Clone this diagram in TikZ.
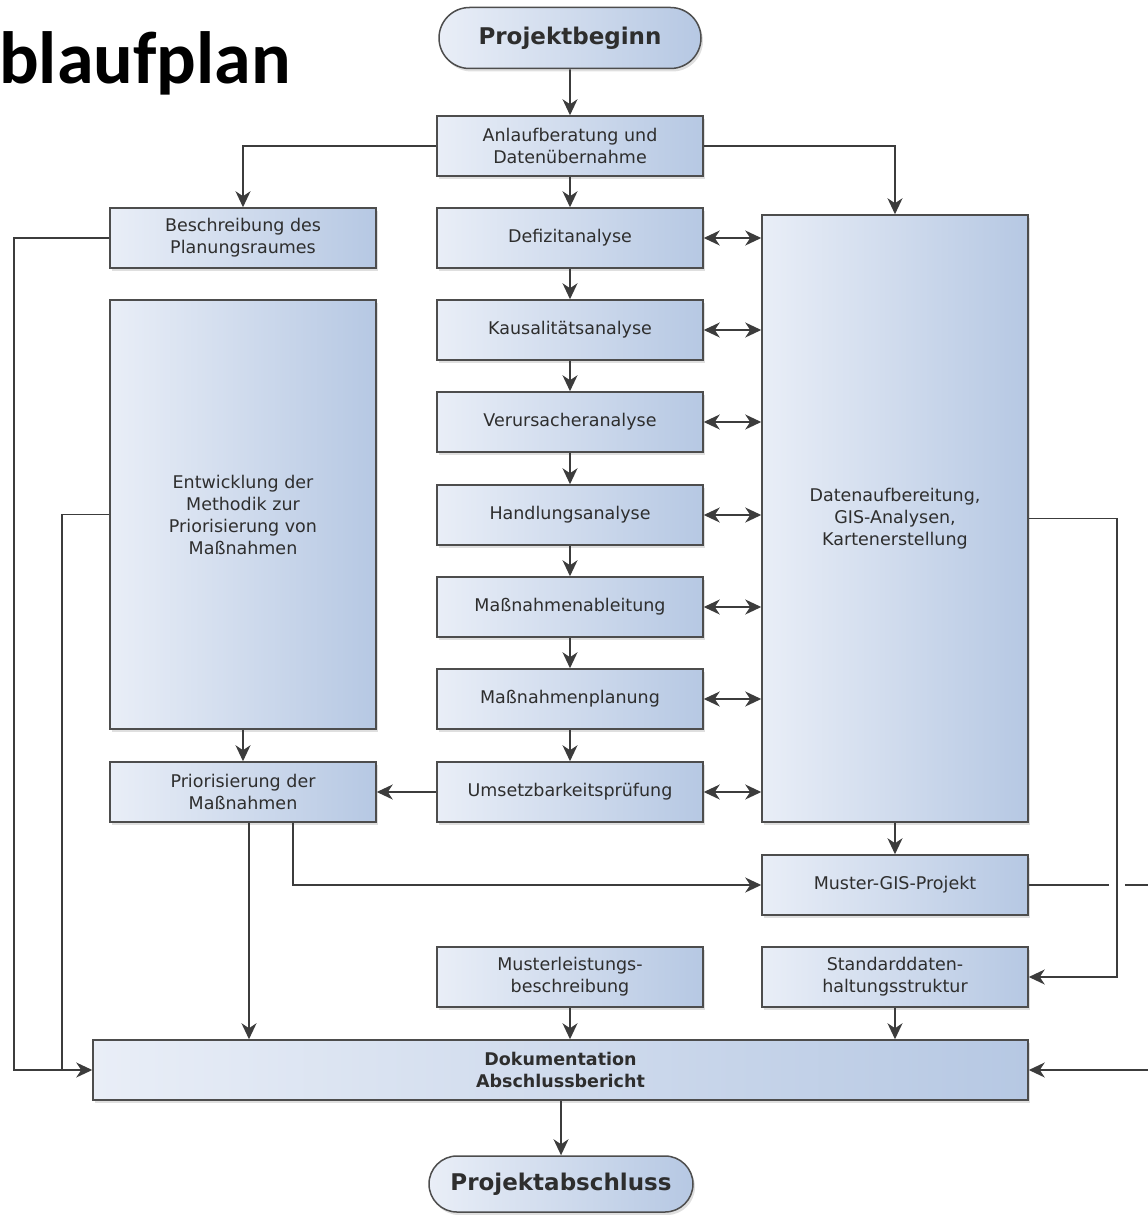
\documentclass[tikz,border=0pt]{standalone}
\usepackage{fontspec}
\setmainfont{DejaVu Sans}
\newfontfamily\titlefont{Carlito}
\usetikzlibrary{arrows.meta,shapes.misc,shadows}
\definecolor{boxleft}{HTML}{E9EEF7}
\definecolor{boxright}{HTML}{B6C8E3}
\definecolor{boxline}{HTML}{4D4D4D}
\definecolor{boxtext}{HTML}{2E2E2E}
\definecolor{linecol}{HTML}{3C3C3C}
\begin{document}
\begin{tikzpicture}[x=1pt, y=-1pt,
  flowbox/.style={rectangle, draw=boxline, line width=1.5pt, left color=boxleft, right color=boxright,
    minimum width=266pt, minimum height=60pt, align=center, text=boxtext, inner sep=2pt,
    font=\fontsize{17.5}{22}\selectfont, drop shadow={opacity=0.25, shadow xshift=2pt, shadow yshift=-3pt}},
  endbox/.style={flowbox, rounded rectangle, font=\bfseries\fontsize{23}{27}\selectfont},
  conn/.style={draw=linecol, line width=1.8pt},
  arr/.style={conn, -{Stealth[length=16pt, width=15pt, inset=5pt]}},
  darr/.style={conn, {Stealth[length=16pt, width=15pt, inset=5pt]}-{Stealth[length=16pt, width=15pt, inset=5pt]}}]
\useasboundingbox (0,0) rectangle (1148,1215);
\node[anchor=base west, inner sep=0pt, font=\titlefont\bfseries\fontsize{74}{78}\selectfont] (title) at (-1,84) {blaufplan};
% mittlere Spalte
\node[endbox, minimum width=266pt, minimum height=61pt] (beg) at (570,38) {Projektbeginn};
\node[flowbox] (anl) at (570,146) {Anlaufberatung und\\Datenübernahme};
\node[flowbox] (def) at (570,238) {Defizitanalyse};
\node[flowbox] (kaus) at (570,330) {Kausalitätsanalyse};
\node[flowbox] (veru) at (570,422) {Verursacheranalyse};
\node[flowbox] (hand) at (570,515) {Handlungsanalyse};
\node[flowbox] (mabl) at (570,607) {Maßnahmenableitung};
\node[flowbox] (mpla) at (570,699) {Maßnahmenplanung};
\node[flowbox] (umse) at (570,792) {Umsetzbarkeitsprüfung};
\node[flowbox] (mlb) at (570,977) {Musterleistungs-\\beschreibung};
% linke Spalte
\node[flowbox] (besch) at (243,238) {Beschreibung des\\Planungsraumes};
\node[flowbox, minimum height=429pt] (entw) at (243,514.5) {Entwicklung der\\Methodik zur\\Priorisierung von\\Maßnahmen};
\node[flowbox] (prio) at (243,792) {Priorisierung der\\Maßnahmen};
% rechte Spalte
\node[flowbox, minimum height=607pt] (dat) at (895,518.5) {Datenaufbereitung,\\GIS-Analysen,\\Kartenerstellung};
\node[flowbox] (must) at (895,885) {Muster-GIS-Projekt};
\node[flowbox] (std) at (895,977) {Standarddaten-\\haltungsstruktur};
% unten
\node[flowbox, minimum width=935pt, font=\bfseries\fontsize{17.5}{22}\selectfont] (doku) at (560.5,1070) {Dokumentation\\Abschlussbericht};
\node[endbox, minimum width=268pt, minimum height=56pt] (abs) at (561,1184) {Projektabschluss};
% Hauptkette
\draw[arr] (beg) -- (anl);
\draw[arr] (anl) -- (def);
\draw[arr] (def) -- (kaus);
\draw[arr] (kaus) -- (veru);
\draw[arr] (veru) -- (hand);
\draw[arr] (hand) -- (mabl);
\draw[arr] (mabl) -- (mpla);
\draw[arr] (mpla) -- (umse);
\draw[arr] (anl.west) -| (besch.north);
\draw[arr] (anl.east) -| (dat.north);
% Austausch mit der Datenaufbereitung
\draw[darr] (def.east) -- (def.east -| dat.west);
\draw[darr] (kaus.east) -- (kaus.east -| dat.west);
\draw[darr] (veru.east) -- (veru.east -| dat.west);
\draw[darr] (hand.east) -- (hand.east -| dat.west);
\draw[darr] (mabl.east) -- (mabl.east -| dat.west);
\draw[darr] (mpla.east) -- (mpla.east -| dat.west);
\draw[darr] (umse.east) -- (umse.east -| dat.west);
\draw[arr] (entw) -- (prio);
\draw[arr] (umse) -- (prio);
\draw[arr] (dat) -- (must);
\draw[arr] ([xshift=6pt]prio.south) -- ([xshift=6pt]prio.south |- doku.north);
\draw[arr] ([xshift=50pt]prio.south) |- (must.west);
\draw[arr] (mlb) -- (mlb.south |- doku.north);
\draw[arr] (std) -- (std.south |- doku.north);
\draw[arr] (doku.south -| abs.north) -- (abs);
% Rueckfuehrungen links
\draw[arr] (besch.west) -- ++(-95,0) |- (doku.west);
\draw[conn] (entw.west) -- ++(-47,0) |- ([xshift=-30pt]doku.west);
% rechts
\draw[arr] (dat.east) -- ++(88,0) |- (std.east);
\draw[conn] (must.east) -- ++(80,0);
\draw[arr] ([xshift=96pt]must.east) -- ++(60,0) |- (doku.east);
\end{tikzpicture}
\end{document}
